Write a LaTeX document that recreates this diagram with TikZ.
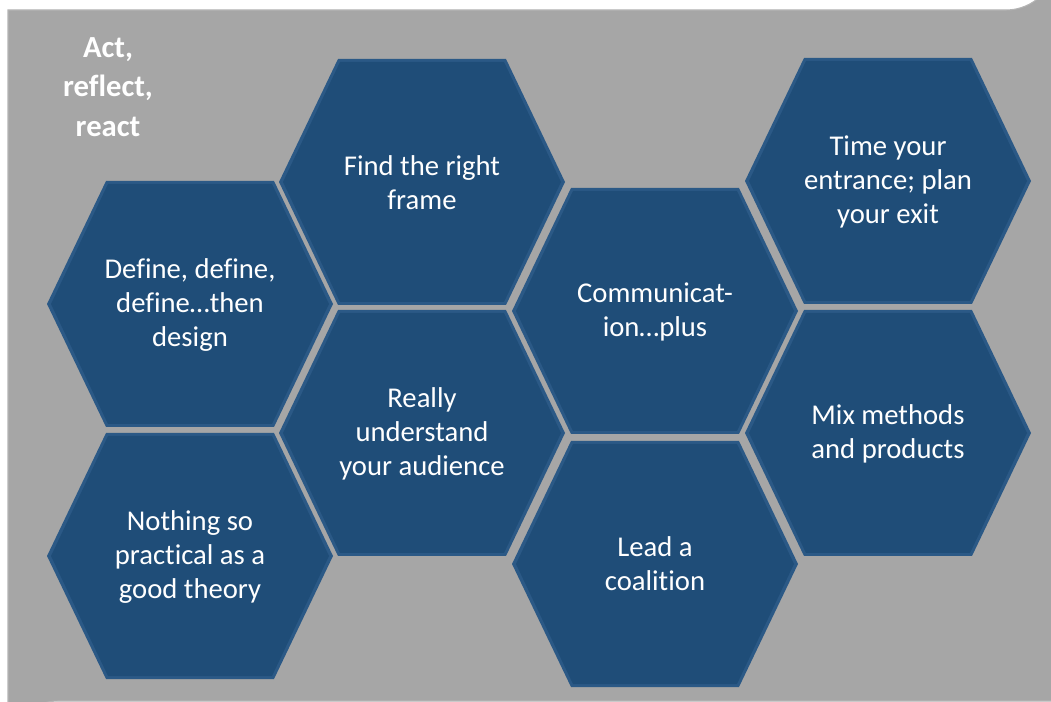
\documentclass[tikz,border=0pt]{standalone}
\usepackage{fontspec}
\setmainfont[Ligatures=NoCommon]{Carlito}
\definecolor{bggray}{HTML}{A6A6A6}
\definecolor{bgedge}{HTML}{B4B4B4}
\definecolor{hexblue}{HTML}{1F4D78}
\definecolor{hexbevel}{HTML}{2B5986}
\tikzset{
  hexcell/.pic={
    \fill[hexbevel] (-143,0)--(-84,-123)--(84,-123)--(143,0)--(84,123)--(-84,123)--cycle;
    \fill[hexblue] (-139,0)--(-82,-120)--(82,-120)--(139,0)--(82,120)--(-82,120)--cycle;
  },
  hextext/.style={text=white, align=center, inner sep=0pt,
    font=\fontsize{21.5}{25.5}\selectfont},
  titletext/.style={text=white, align=center, inner sep=0pt,
    font=\bfseries\fontsize{23}{29.5}\selectfont}
}
\begin{document}
\begin{tikzpicture}[x=0.75pt, y=-0.75pt]
\useasboundingbox (0,0) rectangle (1051,702);
% background panel
\fill[bggray, draw=bgedge, line width=0.8pt]
  (8,10) -- (1006,10) arc[start angle=90, end angle=0, radius=50] -- (1056,701)
  -- (58,701) arc[start angle=270, end angle=180, radius=50] -- cycle;
% hexagons
\pic at (190,304) {hexcell};
\pic at (190,556) {hexcell};
\pic at (422,182) {hexcell};
\pic at (422,433) {hexcell};
\pic at (655,311) {hexcell};
\pic at (655,564) {hexcell};
\pic at (888,181) {hexcell};
\pic at (888,433) {hexcell};
% texts
\node[titletext] (title) at (108,87) {Act,\\reflect,\\react};
\node[hextext] (define) at (190,305) {Define, define,\\define…then\\design};
\node[hextext] (nothing) at (190,557) {Nothing so\\practical as a\\good theory};
\node[hextext] (frame) at (422,183) {Find the right\\frame};
\node[hextext] (audience) at (422,434) {Really\\understand\\your audience};
\node[hextext] (comm) at (655,312) {Communicat-\\ion…plus};
\node[hextext] (coalition) at (655,564) {Lead a\\coalition};
\node[hextext] (time) at (888,182) {Time your\\entrance; plan\\your exit};
\node[hextext] (mix) at (888,434) {Mix methods\\and products};
\end{tikzpicture}
\end{document}
